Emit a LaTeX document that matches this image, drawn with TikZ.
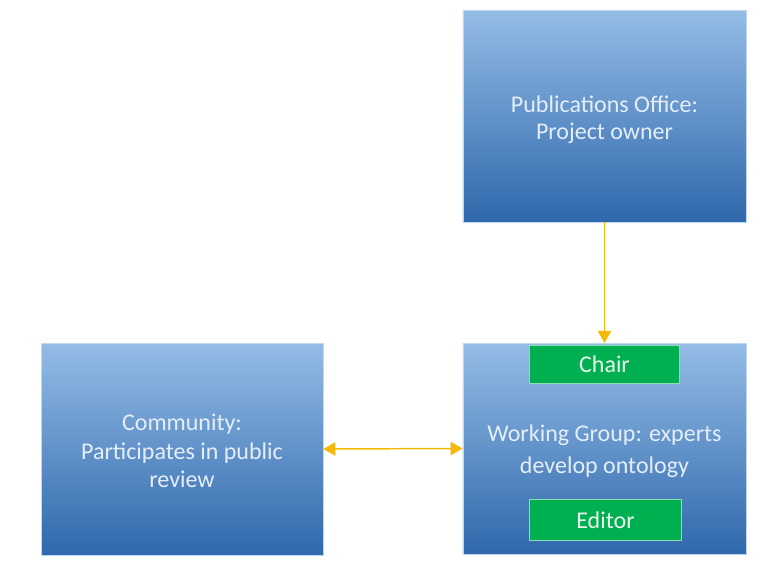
\documentclass[tikz,border=0pt]{standalone}
\usepackage{fontspec}
\setmainfont{Carlito}
\usetikzlibrary{arrows.meta}
\definecolor{boxtop}{HTML}{94BCE6}
\definecolor{boxbot}{HTML}{2F68AC}
\definecolor{boxtext}{HTML}{E4EEF9}
\definecolor{grn}{HTML}{00B050}
\definecolor{grnedge}{HTML}{8EDDAE}
\definecolor{grntext}{HTML}{E6F8EC}
\definecolor{arr}{HTML}{F5B90A}
\tikzset{
  bluebox/.style={rectangle, top color=boxtop, bottom color=boxbot, draw=boxtop!60!white, line width=0.4pt,
    text=boxtext, align=center, font=\fontsize{18}{21.5}\selectfont, inner sep=0pt},
  greenbox/.style={rectangle, fill=grn, draw=grnedge, line width=0.8pt, text=grntext,
    font=\fontsize{18}{20}\selectfont, inner sep=0pt},
  conn/.style={draw=arr, line width=1.1pt, -{Triangle[length=9pt,width=10pt]}},
  conn2/.style={draw=arr, line width=1.1pt, {Triangle[length=9pt,width=10pt]}-{Triangle[length=9pt,width=10pt]}}
}
\begin{document}
\begin{tikzpicture}[x=0.75pt,y=-0.75pt]
\useasboundingbox (0,0) rectangle (783,572);
\node[bluebox, minimum width=212.5pt, minimum height=159pt] (pub) at (604.5,116) {};
\node[bluebox, minimum width=212.5pt, minimum height=158pt] (wg) at (604.5,448.5) {};
\node[bluebox, minimum width=211.5pt, minimum height=159pt] (com) at (182,449) {};
\node[text=boxtext, align=center, font=\fontsize{18}{20.5}\selectfont, inner sep=0pt] (pubt) at (604.5,119.5) {Publications Office:\\Project owner};
\node[text=boxtext, align=center, font=\fontsize{18}{24}\selectfont, inner sep=0pt] (wgt) at (604.5,451) {Working Group: experts\\develop ontology};
\node[text=boxtext, align=center, font=\fontsize{18}{21.5}\selectfont, inner sep=0pt] (comt) at (182,451) {Community:\\Participates in public\\review};
\node[greenbox, minimum width=113pt, minimum height=28.5pt] (chair) at (604.5,364.5) {Chair};
\node[greenbox, minimum width=114pt, minimum height=31pt] (editor) at (605.5,520) {Editor};
\draw[conn] (pub.south) -- (wg.north);
\draw[conn2] (com.east) -- (wg.west);
\end{tikzpicture}
\end{document}
